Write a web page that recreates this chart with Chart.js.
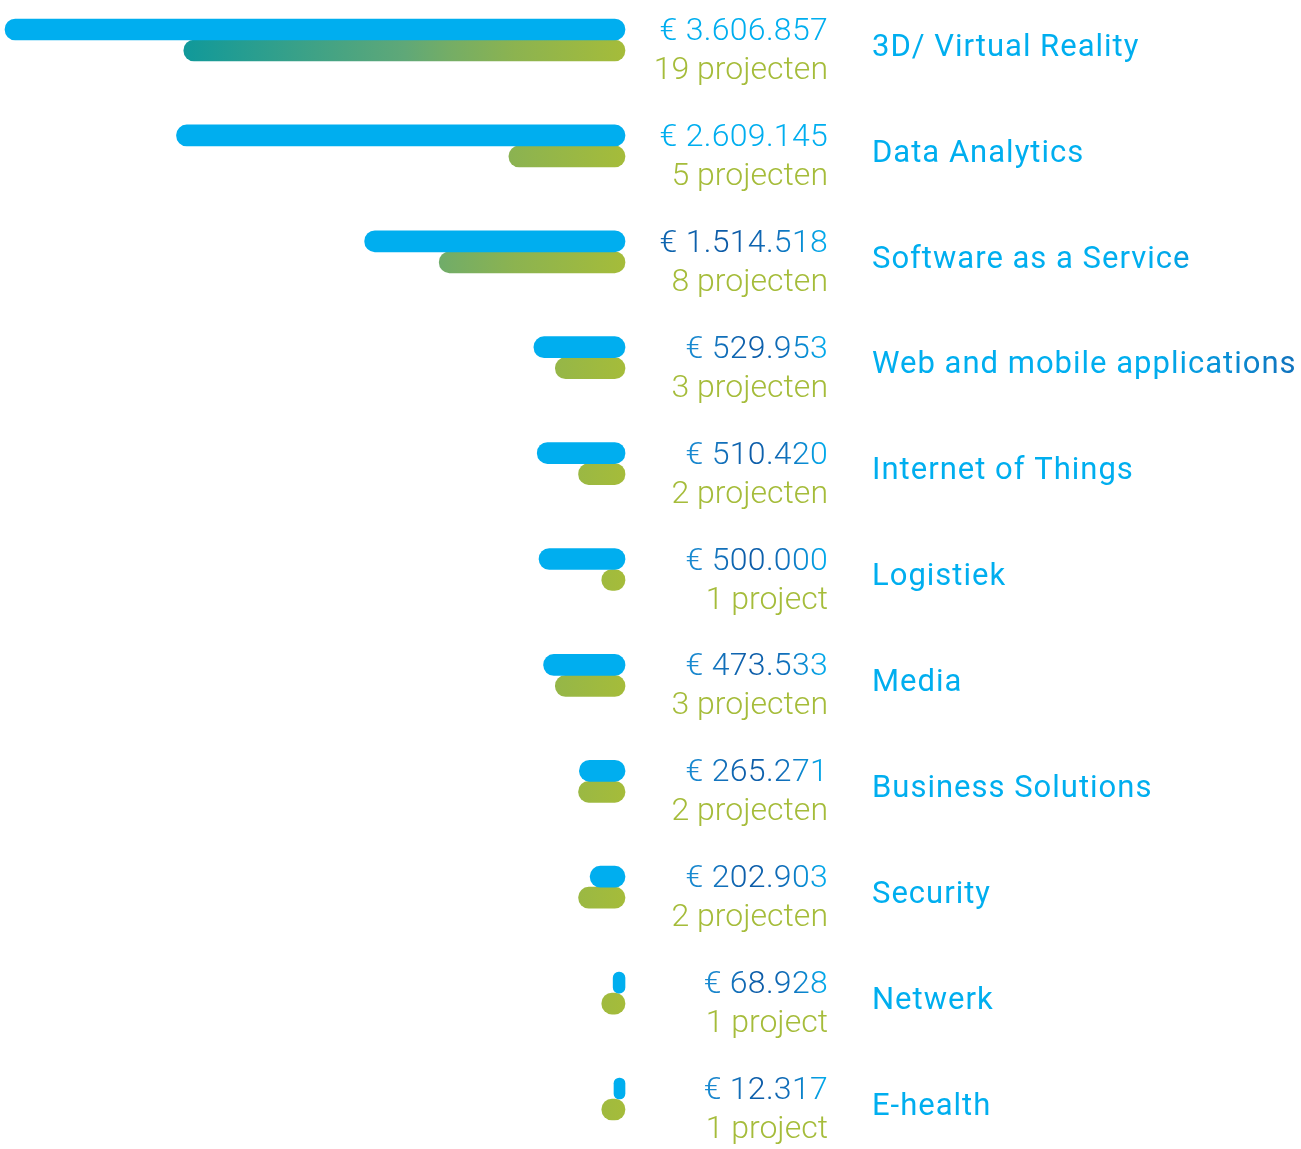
<!DOCTYPE html>
<html>
<head>
<meta charset="utf-8">
<script src="https://cdn.jsdelivr.net/npm/chart.js@4.4.0/dist/chart.umd.min.js"></script>
<style>
    body { margin: 0; background: #fff; }
    .chart-wrap { width: 1301px; height: 1149px; position: relative; }
</style>
</head>
<body>
<div class="chart-wrap"><canvas id="sectorChart"></canvas></div>
<script>
// Data
const sectors = ['3D/ Virtual Reality', 'Data Analytics', 'Software as a Service', 'Web and mobile applications',
    'Internet of Things', 'Logistiek', 'Media', 'Business Solutions', 'Security', 'Netwerk', 'E-health'];
const amounts = [3606857, 2609145, 1514518, 529953, 510420, 500000, 473533, 265271, 202903, 68928, 12317];
const projects = [19, 5, 8, 3, 2, 1, 3, 2, 2, 1, 1];

const lightBlue = '#00aeef';
const darkBlue = '#0c5aa6';
const olive = '#a5bc3a';

const formatEuro = v => '€ ' + String(v).replace(/\B(?=(\d{3})+(?!\d))/g, '.');
const formatProjects = n => n === 1 ? '1 project' : n + ' projecten';

function greenGradient(context) {
    const chart = context.chart;
    const area = chart.chartArea;
    if (!area) return olive;
    const x2 = chart.scales.x2;
    const start = x2.getPixelForValue(Math.max(...projects));
    const g = chart.ctx.createLinearGradient(start, 0, area.right, 0);
    g.addColorStop(0, '#10999a');
    g.addColorStop(0.5, '#5fa878');
    g.addColorStop(0.6, '#74ad66');
    g.addColorStop(0.75, '#8cb350');
    g.addColorStop(1, olive);
    return g;
}

const labelPlugin = {
    id: 'sectorLabels',
    afterDatasetsDraw(chart) {
        const { ctx, scales: { y } } = chart;
        const numX = 828;
        const nameX = 872;
        ctx.save();
        ctx.textBaseline = 'middle';
        sectors.forEach((name, i) => {
            const cy = y.getPixelForValue(i);

            // amount, blue with a darker middle
            ctx.font = '300 32px Roboto';
            ctx.letterSpacing = '0.3px';
            ctx.textAlign = 'right';
            const txt = formatEuro(amounts[i]);
            const w = ctx.measureText(txt).width;
            if (i < 2) {
                ctx.fillStyle = lightBlue;
            } else {
                const g = ctx.createLinearGradient(numX - w, 0, numX, 0);
                g.addColorStop(0, i === 2 ? '#0f66b0' : '#1b8fd5');
                g.addColorStop(0.45, darkBlue);
                g.addColorStop(0.7, '#1170bb');
                g.addColorStop(1, lightBlue);
                ctx.fillStyle = g;
            }
            ctx.fillText(txt, numX, cy - 8);

            // project count
            ctx.letterSpacing = '0px';
            ctx.fillStyle = olive;
            ctx.fillText(formatProjects(projects[i]), numX, cy + 31);

            // sector name
            ctx.font = '400 31px Roboto';
            ctx.letterSpacing = '1px';
            ctx.textAlign = 'left';
            const ng = ctx.createLinearGradient(nameX, 0, 1300, 0);
            ng.addColorStop(0, lightBlue);
            ng.addColorStop(0.65, lightBlue);
            ng.addColorStop(1, '#1170bb');
            ctx.fillStyle = ng;
            ctx.fillText(name, nameX, cy + 8);
        });
        ctx.restore();
    }
};

document.addEventListener('DOMContentLoaded', () => {
    const ctx = document.getElementById('sectorChart').getContext('2d');
    new Chart(ctx, {
        type: 'bar',
        data: {
            labels: sectors,
            datasets: [{
                label: 'Bedrag',
                data: amounts,
                xAxisID: 'x',
                backgroundColor: lightBlue,
                borderRadius: 11,
                borderSkipped: false,
                barThickness: 21,
                minBarLength: 11,
                clip: false
            }, {
                label: 'Projecten',
                data: projects,
                xAxisID: 'x2',
                backgroundColor: greenGradient,
                borderRadius: 11,
                borderSkipped: false,
                barThickness: 21,
                clip: false
            }]
        },
        options: {
            indexAxis: 'y',
            responsive: true,
            maintainAspectRatio: false,
            animation: false,
            layout: { padding: { left: 5, right: 676, top: 40, bottom: 50 } },
            plugins: {
                legend: { display: false },
                tooltip: { enabled: false }
            },
            scales: {
                x: { display: false, reverse: true, min: 0, max: Math.max(...amounts) },
                x2: { display: false, reverse: true, min: 0, max: 26.7 },
                y: { display: false, offset: false, grid: { display: false } }
            }
        },
        plugins: [labelPlugin]
    });
});
</script>
</body>
</html>
